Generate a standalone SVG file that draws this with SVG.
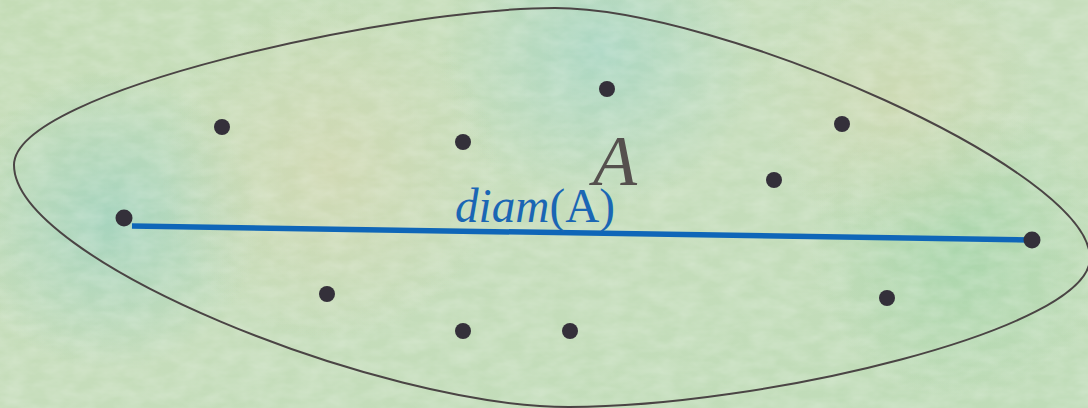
<svg xmlns="http://www.w3.org/2000/svg" width="1088" height="408" viewBox="0 0 1088 408">
  <defs>
    <linearGradient id="bg" x1="0" y1="0" x2="1" y2="1">
      <stop offset="0" stop-color="#c4dcb6"/>
      <stop offset="0.5" stop-color="#c6ddbb"/>
      <stop offset="1" stop-color="#bfdcb8"/>
    </linearGradient>
    <radialGradient id="teal1" cx="110" cy="220" r="150" gradientUnits="userSpaceOnUse">
      <stop offset="0" stop-color="#9fd2bf" stop-opacity="0.8"/>
      <stop offset="1" stop-color="#9fd2bf" stop-opacity="0"/>
    </radialGradient>
    <radialGradient id="teal2" cx="600" cy="50" r="160" gradientUnits="userSpaceOnUse">
      <stop offset="0" stop-color="#a6d6c6" stop-opacity="0.8"/>
      <stop offset="1" stop-color="#a6d6c6" stop-opacity="0"/>
    </radialGradient>
    <radialGradient id="beige1" cx="330" cy="170" r="170" gradientUnits="userSpaceOnUse">
      <stop offset="0" stop-color="#d3d8b2" stop-opacity="0.8"/>
      <stop offset="1" stop-color="#d3d8b2" stop-opacity="0"/>
    </radialGradient>
    <radialGradient id="green1" cx="960" cy="250" r="150" gradientUnits="userSpaceOnUse">
      <stop offset="0" stop-color="#a4d4a8" stop-opacity="0.8"/>
      <stop offset="1" stop-color="#a4d4a8" stop-opacity="0"/>
    </radialGradient>
    <radialGradient id="beige2" cx="900" cy="100" r="140" gradientUnits="userSpaceOnUse">
      <stop offset="0" stop-color="#d0d8b0" stop-opacity="0.7"/>
      <stop offset="1" stop-color="#d0d8b0" stop-opacity="0"/>
    </radialGradient>
    <filter id="tex" x="0" y="0" width="100%" height="100%">
      <feTurbulence type="fractalNoise" baseFrequency="0.04 0.08" numOctaves="3" seed="4" result="n"/>
      <feColorMatrix in="n" type="matrix" values="0 0 0 0 1  0 0 0 0 1  0 0 0 0 1  0 0 0 0.35 -0.1" result="w"/>
      <feComposite in="w" in2="SourceGraphic" operator="in"/>
    </filter>
    <style>
      .dot { fill: #34303a; }
      .outline { fill: none; stroke: #4a4444; stroke-width: 2; }
      .diam { stroke: #0f66b8; stroke-width: 5.5; }
    </style>
  </defs>
  <g id="background">
    <rect width="1088" height="408" fill="url(#bg)"/>
    <rect width="1088" height="408" fill="url(#teal1)"/>
    <rect width="1088" height="408" fill="url(#teal2)"/>
    <rect width="1088" height="408" fill="url(#beige1)"/>
    <rect width="1088" height="408" fill="url(#green1)"/>
    <rect width="1088" height="408" fill="url(#beige2)"/>
    <rect width="1088" height="408" fill="#ffffff" filter="url(#tex)"/>
  </g>
  <g id="set-A">
    <path class="outline" d="M14,165 C14,90 400,8 555,8 C720,8 1090,170 1090,258 C1090,330 760,407 569,407 C380,407 14,260 14,165 Z"/>
    <text x="593" y="185" font-family="'Liberation Serif', serif" font-style="italic" font-size="72" fill="#55504e">A</text>
  </g>
  <g id="connectors">
    <line class="diam" x1="132" y1="226" x2="1030" y2="240"/>
    <text x="455" y="222" font-family="'Liberation Serif', serif" font-size="48" fill="#1a66b4" textLength="160" lengthAdjust="spacingAndGlyphs"><tspan font-style="italic">diam</tspan>(A)</text>
  </g>
  <g id="points">
    <circle class="dot" cx="222" cy="127" r="8"/>
    <circle class="dot" cx="607" cy="89" r="8"/>
    <circle class="dot" cx="463" cy="142" r="8"/>
    <circle class="dot" cx="842" cy="124" r="8"/>
    <circle class="dot" cx="774" cy="180" r="8"/>
    <circle class="dot" cx="124" cy="218" r="8.5"/>
    <circle class="dot" cx="1032" cy="240" r="8.5"/>
    <circle class="dot" cx="327" cy="294" r="8"/>
    <circle class="dot" cx="887" cy="298" r="8"/>
    <circle class="dot" cx="463" cy="331" r="8"/>
    <circle class="dot" cx="570" cy="331" r="8"/>
  </g>
</svg>
